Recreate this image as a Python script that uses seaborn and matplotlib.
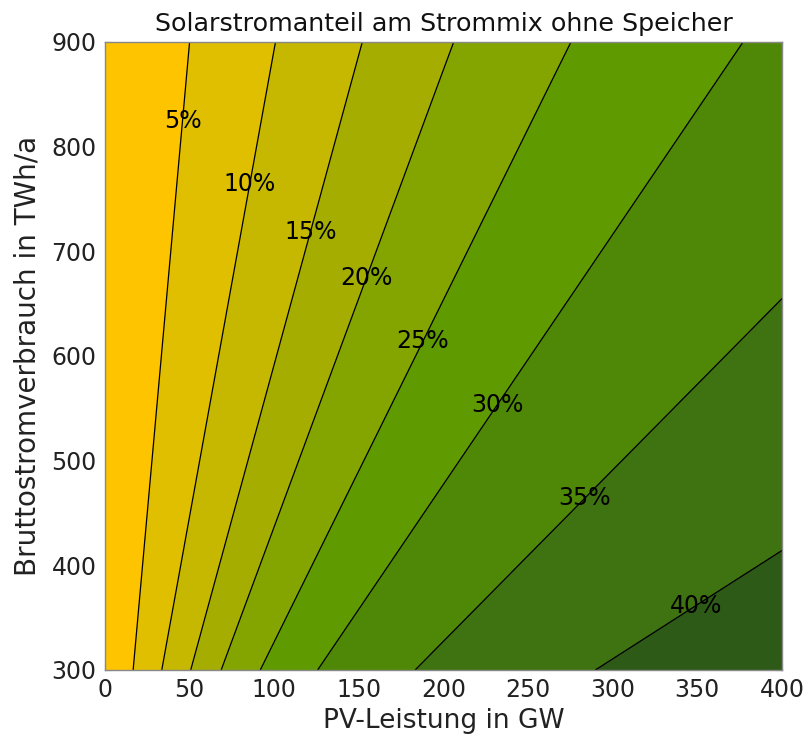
import matplotlib
matplotlib.use("Agg")
import matplotlib.pyplot as plt
import numpy as np
import seaborn as sns

# The share depends only on PV-Leistung / Bruttostromverbrauch, so the
# contours are rays through the origin. Ratio (GW per TWh/a) at which each
# share is reached, read off where the lines cross the plot edges.
verhaeltnis = [0.0, 0.0556, 0.112, 0.169, 0.229, 0.306, 0.419, 0.611, 0.966, 1.34]
anteil = [0.0, 5.0, 10.0, 15.0, 20.0, 25.0, 30.0, 35.0, 40.0, 43.5]
verbrauch_twh = [300, 900]

levels = [0, 5, 10, 15, 20, 25, 30, 35, 40, 45]
line_levels = [5, 10, 15, 20, 25, 30, 35, 40]
band_colors = ["#ffc400", "#e0bf00", "#c6b800", "#a4ad00", "#84a500",
               "#5e9a00", "#4e8806", "#3f7210", "#2d5a17"]

# where the percentage labels sit (GW, TWh/a)
label_pos = [(46, 824), (86, 764), (122, 718), (155, 674),
             (187, 614), (232, 553), (283, 464), (350, 361)]

sns.set_theme(style="ticks")
plt.rcParams["font.family"] = ["DejaVu Sans"]

# quad grid made of rays x = ratio * y
Y, R = np.meshgrid(verbrauch_twh, verhaeltnis, indexing="ij")
X = R * Y
Z = np.tile(anteil, (len(verbrauch_twh), 1))

fig = plt.figure(figsize=(8.07, 7.46), dpi=100)
ax = fig.add_axes([0.130, 0.102, 0.839, 0.842])

ax.contourf(X, Y, Z, levels=levels, colors=band_colors)
cs = ax.contour(X, Y, Z, levels=line_levels, colors="black", linewidths=0.9)
labels = ax.clabel(cs, inline=False, fontsize=17, colors="black",
                   fmt=lambda v: f"{v:.0f}%", manual=label_pos)
for t in labels:
    t.set_rotation(0)

ax.set_xlim(0, 400)
ax.set_ylim(300, 900)
ax.set_xticks(range(0, 401, 50))
ax.set_yticks(range(300, 901, 100))
ax.tick_params(direction="in", top=True, right=True, length=5, width=0.8,
               color="#777777", labelsize=17, labelcolor="#222222", pad=6)
for sp in ax.spines.values():
    sp.set_color("#888888")
    sp.set_linewidth(1.0)

ax.set_title("Solarstromanteil am Strommix ohne Speicher", fontsize=18.3, color="#111111", pad=8)
ax.set_xlabel("PV-Leistung in GW", fontsize=19, color="#222222", labelpad=4)
ax.set_ylabel("Bruttostromverbrauch in TWh/a", fontsize=20, color="#222222", labelpad=7)

fig.savefig("out.png", dpi=100)
